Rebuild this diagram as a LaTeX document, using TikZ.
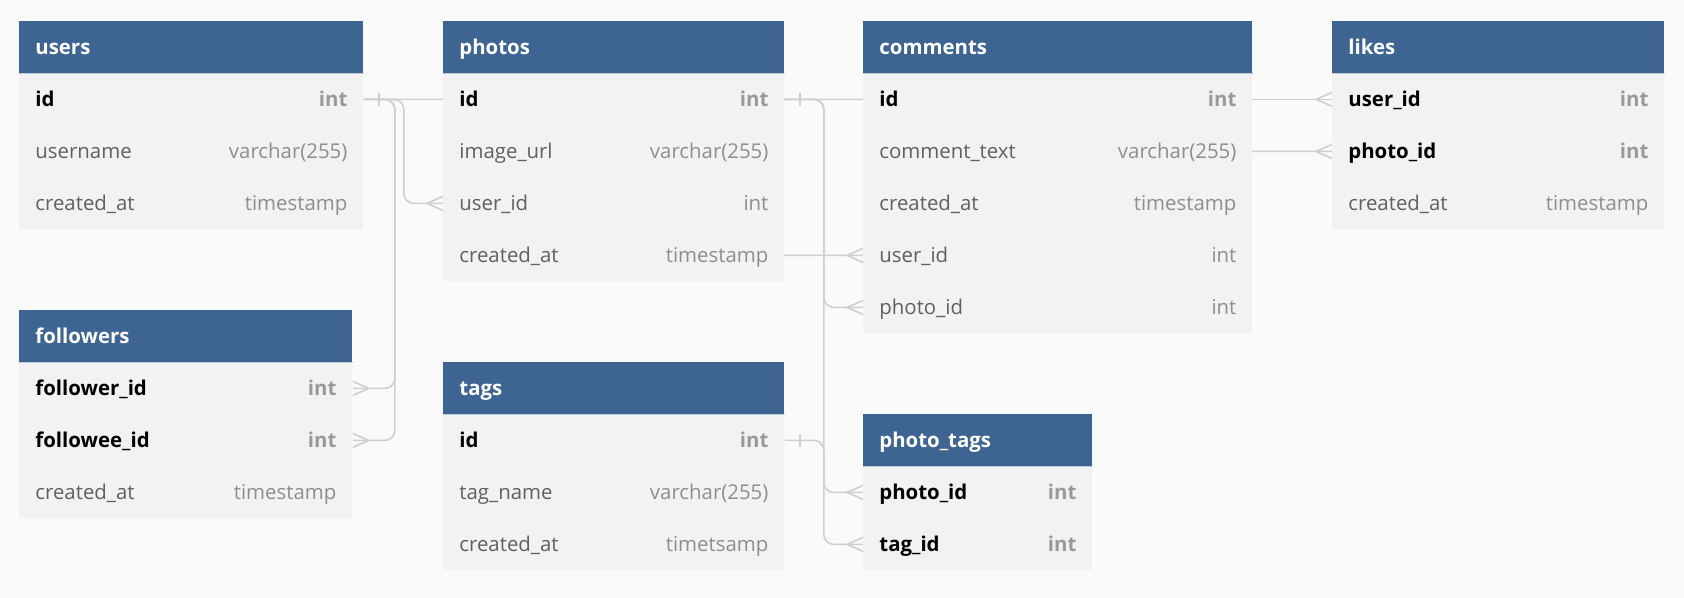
\documentclass[tikz,border=0pt]{standalone}
\usepackage{fontspec}
\setmainfont{Open Sans}
\usetikzlibrary{decorations.markings}

\definecolor{pagebg}{HTML}{FAFAFA}
\definecolor{headblue}{HTML}{3E6491}
\definecolor{headrule}{HTML}{BCCADA}
\definecolor{rowgray}{HTML}{F2F2F2}
\definecolor{fieldgray}{HTML}{606060}
\definecolor{typegray}{HTML}{8E8E8E}
\definecolor{keytype}{HTML}{999999}
\definecolor{linkgray}{HTML}{CFCFCF}

% one row of a table: name on the left, type on the right
\newcommand\keyfield[2]{{\bfseries\color{black}#1}\hfill{\bfseries\color{keytype}#2}}
\newcommand\plainfield[2]{{\color{fieldgray}#1}\hfill{\color{typegray}#2}}

\pgfdeclarelayer{paper}
\pgfdeclarelayer{links}
\pgfsetlayers{paper,links,main}

\begin{document}
\begin{tikzpicture}[x=0.5pt, y=-0.5pt,
    tbl/.style={anchor=north west, minimum height=26pt, inner xsep=8pt, inner ysep=0pt,
                text height=8pt, text depth=1pt, align=left, font=\fontsize{10.2pt}{12pt}\selectfont},
    head/.style={tbl, fill=headblue, text=white, font=\fontsize{10.2pt}{12pt}\selectfont\bfseries},
    row/.style={tbl, fill=rowgray},
    link/.style={draw=linkgray, line width=0.8pt},
    one/.style={postaction={decorate, decoration={markings,
        mark=at position 7.5pt with {\draw[link] (0,-6.5) -- (0,6.5);}}}},
    many/.style={postaction={decorate, decoration={markings,
        mark=at position 1 with {\draw[link] (-16,0) -- (0,-7) (-16,0) -- (0,7);}}}}]

    \begin{pgfonlayer}{paper}
    \fill[pagebg] (0,0) rectangle (1684,598);
    \end{pgfonlayer}

    % users
    \node[head, text width=156pt] (users) at (19,21) {users};
    \foreach \n/\f/\t/\k [count=\i] in {id/id/int/\keyfield,
        username/username/varchar(255)/\plainfield,
        created/created\_at/timestamp/\plainfield}
    \node[row, text width=156pt] (users-\n) at (19,21+52*\i) {\k{\f}{\t}};

    % photos
    \node[head, text width=154.5pt] (photos) at (443,21) {photos};
    \foreach \n/\f/\t/\k [count=\i] in {id/id/int/\keyfield,
        imageurl/image\_url/varchar(255)/\plainfield,
        userid/user\_id/int/\plainfield,
        created/created\_at/timestamp/\plainfield}
    \node[row, text width=154.5pt] (photos-\n) at (443,21+52*\i) {\k{\f}{\t}};

    % comments
    \node[head, text width=178.5pt] (comments) at (863,21) {comments};
    \foreach \n/\f/\t/\k [count=\i] in {id/id/int/\keyfield,
        text/comment\_text/varchar(255)/\plainfield,
        created/created\_at/timestamp/\plainfield,
        userid/user\_id/int/\plainfield,
        photoid/photo\_id/int/\plainfield}
    \node[row, text width=178.5pt] (comments-\n) at (863,21+52*\i) {\k{\f}{\t}};

    % likes
    \node[head, text width=150pt] (likes) at (1332,21) {likes};
    \foreach \n/\f/\t/\k [count=\i] in {userid/user\_id/int/\keyfield,
        photoid/photo\_id/int/\keyfield,
        created/created\_at/timestamp/\plainfield}
    \node[row, text width=150pt] (likes-\n) at (1332,21+52*\i) {\k{\f}{\t}};

    % followers
    \node[head, text width=150.5pt] (followers) at (19,310) {followers};
    \foreach \n/\f/\t/\k [count=\i] in {followerid/follower\_id/int/\keyfield,
        followeeid/followee\_id/int/\keyfield,
        created/created\_at/timestamp/\plainfield}
    \node[row, text width=150.5pt] (followers-\n) at (19,310+52*\i) {\k{\f}{\t}};

    % tags
    \node[head, text width=154.5pt] (tags) at (443,362) {tags};
    \foreach \n/\f/\t/\k [count=\i] in {id/id/int/\keyfield,
        name/tag\_name/varchar(255)/\plainfield,
        created/created\_at/timetsamp/\plainfield}
    \node[row, text width=154.5pt] (tags-\n) at (443,362+52*\i) {\k{\f}{\t}};

    % photo_tags
    \node[head, text width=98.5pt] (phototags) at (863,414) {photo\_tags};
    \foreach \n/\f/\t/\k [count=\i] in {photoid/photo\_id/int/\keyfield,
        tagid/tag\_id/int/\keyfield}
    \node[row, text width=98.5pt] (phototags-\n) at (863,414+52*\i) {\k{\f}{\t}};

    % thin rule under each header
    \foreach \tb in {users,photos,comments,likes,followers,tags,phototags}
    \draw[headrule, line width=0.5pt] (\tb.south west) -- (\tb.south east);

    % references, behind the tables
    \begin{pgfonlayer}{links}
    \draw[link, one, many, rounded corners=5pt] (users-id.east) -- ++(40,0) |- (photos-userid.west);
    \draw[link, one, many, rounded corners=5pt] (users-id.east) -- ++(31,0) |- (followers-followerid.east);
    \draw[link, one, many, rounded corners=5pt] (users-id.east) -- ++(31,0) |- (followers-followeeid.east);
    \draw[link, one, many, rounded corners=5pt] (users-id.east) -- ++(120,0) |- (comments-userid.west);
    \draw[link, one, many] (users-id.east) -- (likes-userid.west);
    \draw[link, one, many, rounded corners=5pt] (photos-id.east) -- ++(120,0) |- (likes-photoid.west);
    \draw[link, one, many, rounded corners=5pt] (photos-id.east) -- ++(39,0) |- (comments-photoid.west);
    \draw[link, one, many, rounded corners=5pt] (photos-id.east) -- ++(39,0) |- (phototags-photoid.west);
    \draw[link, one, many, rounded corners=5pt] (tags-id.east) -- ++(39,0) |- (phototags-tagid.west);
    \end{pgfonlayer}

\end{tikzpicture}
\end{document}
